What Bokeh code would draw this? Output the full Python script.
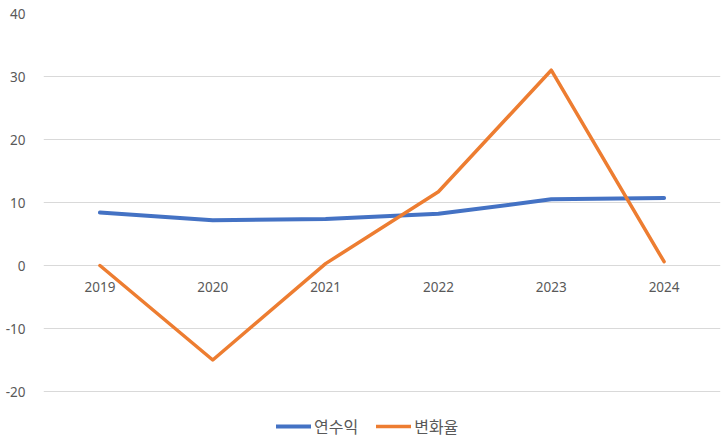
from bokeh.plotting import figure
from bokeh.models import FactorRange, Range1d, FixedTicker, Legend, LegendItem, ColumnDataSource
from bokeh.core.properties import value
from bokeh.embed import file_html
from bokeh.resources import INLINE

years = ["2019", "2020", "2021", "2022", "2023", "2024"]
revenue = [8.4, 7.2, 7.4, 8.2, 10.5, 10.7]
change = [0.0, -15.0, 0.3, 11.7, 31.0, 0.6]
y_ticks = [-20, -10, 0, 10, 20, 30, 40]
y_tick_labels = ["-20", "-10", "0", "10", "20", "30", "40"]
series_names = ["연수익", "변화율"]

p = figure(width=723, height=444, x_range=FactorRange(factors=years, range_padding=0),
           y_range=Range1d(-28.41, 40), output_backend="svg", toolbar_location=None,
           min_border_left=43, min_border_right=3, min_border_top=13, min_border_bottom=0)
p.outline_line_color = None
p.xaxis.visible = False
p.xgrid.visible = False
p.ygrid.grid_line_color = "#D9D9D9"
p.ygrid.grid_line_width = 1
p.yaxis.ticker = FixedTicker(ticks=y_ticks)
p.yaxis.major_label_overrides = {t: s for t, s in zip(y_ticks, y_tick_labels)}
p.yaxis.axis_line_color = None
p.yaxis.major_tick_line_color = None
p.yaxis.minor_tick_line_color = None
p.yaxis.major_label_text_font = "Noto Sans"
p.yaxis.major_label_text_font_size = "13.5px"
p.yaxis.major_label_text_color = "#595959"
p.yaxis.major_label_standoff = 12

src = ColumnDataSource(dict(x=years, y0=[0] * len(years), rev=revenue, chg=change))
p.text(x="x", y="y0", text="x", source=src, text_align="center", text_baseline="middle",
       y_offset=21, text_font=value("Noto Sans"), text_font_size="13.5px", text_color="#595959")

r1 = p.line(x="x", y="rev", source=src, line_color="#4472C4", line_width=4, line_cap="round", line_join="round")
r2 = p.line(x="x", y="chg", source=src, line_color="#ED7D31", line_width=3.5, line_cap="round", line_join="round")

legend = Legend(items=[LegendItem(label=series_names[0], renderers=[r1]),
                       LegendItem(label=series_names[1], renderers=[r2])],
                orientation="horizontal", location=(233, 6),
                label_text_font="Noto Sans CJK KR", label_text_font_size="16px",
                label_text_color="#595959", glyph_width=35, glyph_height=16,
                label_standoff=3, spacing=18, border_line_color=None,
                padding=2, margin=0, background_fill_alpha=0)
p.add_layout(legend, "center")

open("out.html", "w").write(file_html(p, INLINE))
